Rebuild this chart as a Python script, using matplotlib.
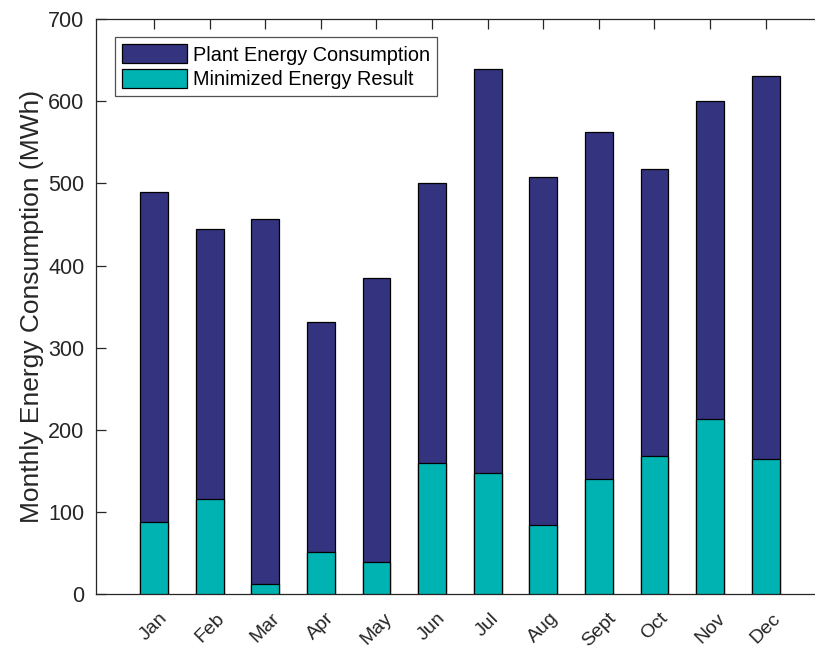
import matplotlib
matplotlib.use("Agg")
import matplotlib.pyplot as plt
from matplotlib.patches import Patch

plt.rcParams['font.family'] = ['Liberation Sans', 'DejaVu Sans']

months = ['Jan', 'Feb', 'Mar', 'Apr', 'May', 'Jun', 'Jul', 'Aug', 'Sept', 'Oct', 'Nov', 'Dec']
plant_energy = [490, 444, 457, 331, 385, 501, 639, 508, 562, 517, 600, 631]
minimized_energy = [88, 116, 13, 52, 39, 160, 148, 84, 140, 168, 214, 165]
y_ticks = [0, 100, 200, 300, 400, 500, 600, 700]

navy = '#333380'
teal = '#00B3B3'
axis_col = '#262626'

fig = plt.figure(figsize=(8.15, 6.48), dpi=100)
ax = fig.add_axes([0.1174, 0.0826, 0.8937, 0.8881])

pos = list(range(1, len(months) + 1))
ax.bar(pos, plant_energy, width=0.5, color=navy, edgecolor='black', linewidth=0.9, zorder=2)
ax.bar(pos, minimized_energy, width=0.5, color=teal, edgecolor='black', linewidth=0.9, zorder=3)

ax.set_xlim(-0.05, 13.05)
ax.set_ylim(0, 700)
ax.set_yticks(y_ticks)
ax.set_xticks(pos)
ax.set_xticklabels(months, rotation=45, ha='center', va='top')

ax.tick_params(axis='both', direction='in', length=7, width=0.9, color=axis_col,
               labelcolor='#262626', top=True, right=False)
ax.tick_params(axis='x', pad=11, labelsize=14)
ax.tick_params(axis='y', pad=8, labelsize=15.5)
for s in ax.spines.values():
    s.set_color(axis_col)
    s.set_linewidth(0.9)
ax.spines['right'].set_visible(False)
for t in ax.get_xticklines():
    t.set_zorder(5)
ax.set_axisbelow(False)

ax.set_ylabel('Monthly Energy Consumption (MWh)', fontsize=19, color='#262626', labelpad=3)

handles = [Patch(facecolor=navy, edgecolor='black', linewidth=0.9, label='Plant Energy Consumption'),
           Patch(facecolor=teal, edgecolor='black', linewidth=0.9, label='Minimized Energy Result')]
leg = ax.legend(handles=handles, loc='upper left', bbox_to_anchor=(0.026, 0.968),
                fontsize=14.3, frameon=True, fancybox=False, handlelength=3.3, handleheight=1.1,
                handletextpad=0.3, borderpad=0.35, labelspacing=0.2, borderaxespad=0)
leg.get_frame().set_edgecolor(axis_col)
leg.get_frame().set_linewidth(0.9)

fig.savefig('out.png', dpi=100)
